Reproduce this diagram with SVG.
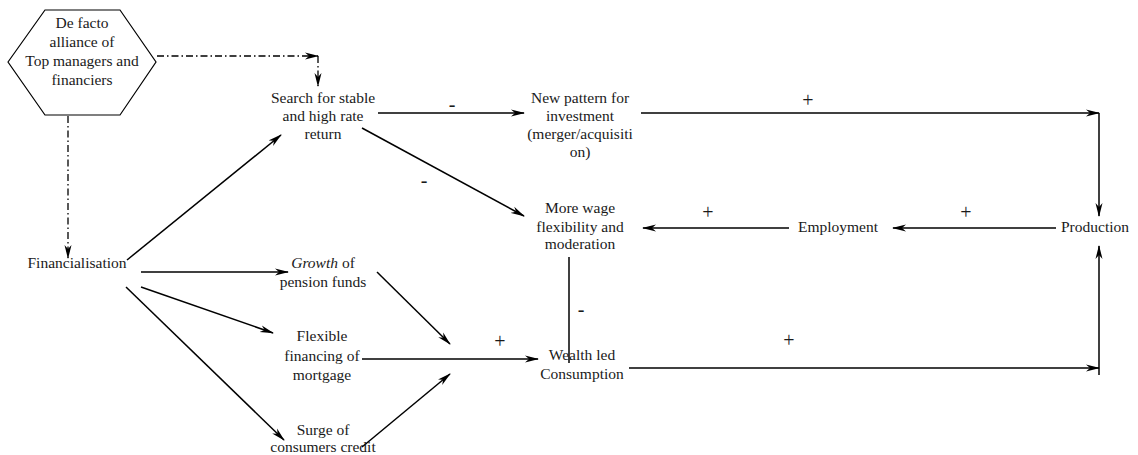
<svg xmlns="http://www.w3.org/2000/svg" width="1138" height="455" viewBox="0 0 1138 455">
  <style>
    text { font-family: "Liberation Serif", "Times New Roman", serif; font-size: 15.5px; fill: #1a1a1a; text-anchor: middle; }
    .sign { font-size: 20px; }
    .edge { stroke: #000; stroke-width: 1.5; fill: none; marker-end: url(#arrow); }
    .plain { stroke: #000; stroke-width: 1.5; fill: none; }
    .dashdot { stroke: #000; stroke-width: 1.3; fill: none; stroke-dasharray: 7 3 1.5 3; marker-end: url(#arrow); }
  </style>
  <defs>
    <marker id="arrow" viewBox="0 0 14 8" refX="13" refY="4" markerWidth="14" markerHeight="8" markerUnits="userSpaceOnUse" orient="auto">
      <path d="M0,0.5 L14,4 L0,7.5 L4,4 z" fill="#000"/>
    </marker>
  </defs>

  <rect width="1138" height="455" fill="#fff"/>

  <!-- connectors -->
  <g id="connectors">
    <!-- alliance links (dash-dot) -->
    <path class="dashdot" d="M157,56 L318,56"/>
    <path class="dashdot" d="M318,56 L318,86"/>
    <path class="dashdot" d="M68,116 L68,258"/>

    <!-- from Financialisation -->
    <path class="edge" d="M127,260 L281,135"/>
    <path class="edge" d="M141,272 L288,272"/>
    <path class="edge" d="M141,287 L273,333"/>
    <path class="edge" d="M126,287 L284,440"/>

    <!-- search for return -->
    <path class="edge" d="M378,113 L524,113"/>
    <path class="edge" d="M362,128 L524,216"/>

    <!-- investment to production -->
    <path class="edge" d="M641,113 L1099,113"/>
    <path class="edge" d="M1099,113 L1099,216"/>

    <!-- production / employment / wages -->
    <path class="edge" d="M1056,228 L893,228"/>
    <path class="edge" d="M789,228 L643,228"/>
    <path class="plain" d="M569,257 L569,363"/>

    <!-- credit channels into consumption -->
    <path class="edge" d="M377,272 L450,344"/>
    <path class="edge" d="M362,447 L450,374"/>
    <path class="edge" d="M362,359 L538,359"/>

    <!-- consumption to production -->
    <path class="edge" d="M629,368 L1099,368"/>
    <path class="edge" d="M1099,375 L1099,246"/>

    <!-- polarity signs -->
    <text class="sign" x="452" y="111">-</text>
    <text class="sign" x="808" y="107">+</text>
    <text class="sign" x="424" y="187">-</text>
    <text class="sign" x="708" y="219">+</text>
    <text class="sign" x="966" y="219">+</text>
    <text class="sign" x="581" y="316">-</text>
    <text class="sign" x="500" y="348">+</text>
    <text class="sign" x="789" y="347">+</text>
  </g>

  <!-- nodes -->
  <g id="alliance">
    <polygon points="8,62 45,10 120,10 156,62 120,115 45,115" fill="#fff" stroke="#000" stroke-width="1.2"/>
    <text x="82" y="28">De facto</text>
    <text x="82" y="47">alliance of</text>
    <text x="82" y="66">Top managers and</text>
    <text x="82" y="85">financiers</text>
  </g>

  <g id="financialisation">
    <text x="77" y="268">Financialisation</text>
  </g>

  <g id="search">
    <text x="323" y="103">Search for stable</text>
    <text x="323" y="121">and high rate</text>
    <text x="323" y="139">return</text>
  </g>

  <g id="investment">
    <text x="580" y="103">New pattern for</text>
    <text x="580" y="121">investment</text>
    <text x="580" y="139">(merger/acquisiti</text>
    <text x="580" y="157">on)</text>
  </g>

  <g id="wages">
    <text x="580" y="213">More wage</text>
    <text x="580" y="232">flexibility and</text>
    <text x="580" y="249">moderation</text>
  </g>

  <g id="employment">
    <text x="838" y="232">Employment</text>
  </g>

  <g id="production">
    <text x="1095" y="232">Production</text>
  </g>

  <g id="pension">
    <text x="323" y="268"><tspan font-style="italic">Growth</tspan> of</text>
    <text x="323" y="287">pension funds</text>
  </g>

  <g id="mortgage">
    <text x="322" y="341">Flexible</text>
    <text x="322" y="361">financing of</text>
    <text x="322" y="380">mortgage</text>
  </g>

  <g id="credit">
    <text x="323" y="435">Surge of</text>
    <text x="323" y="452">consumers credit</text>
  </g>

  <g id="consumption">
    <text x="582" y="360">Wealth led</text>
    <text x="582" y="379">Consumption</text>
  </g>
</svg>
